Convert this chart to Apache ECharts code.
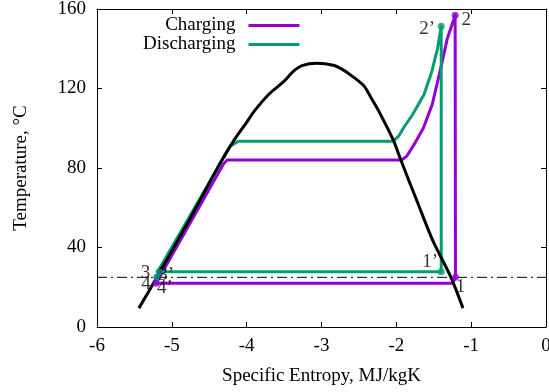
<!DOCTYPE html>
<html><head><meta charset="utf-8">
<script src="https://cdn.jsdelivr.net/npm/echarts@6/dist/echarts.min.js"></script>
<style>html,body{margin:0;padding:0;background:#fff}#c{width:549px;height:392px}</style>
</head><body><div id="c"></div>
<script>
// ---- data ----
const xTicks = [-6, -5, -4, -3, -2, -1, 0];
const yTicks = [0, 40, 80, 120, 160];
const domeS = [-5.44, -5.2, -4.75, -4.33, -4.15, -4.0, -3.89, -3.69, -3.51, -3.38, -3.26, -3.06, -2.84, -2.74, -2.64, -2.44, -2.34, -2.24, -2.04, -1.94, -1.72, -1.515, -1.27, -1.11];
const domeT = [9.5, 25, 55, 84, 95, 103, 109, 117.6, 123.3, 128.5, 131.5, 132.7, 131.7, 130, 127.6, 121.6, 115.5, 109, 94, 84, 63, 43.7, 25, 9.5];
const chargeS = [-1.21, -1.214, -1.32, -1.42, -1.52, -1.64, -1.76, -1.86, -1.93, -4.26, -4.31, -5.21, -1.25, -1.21];
const chargeT = [25, 156.8, 145, 128, 112, 100, 92, 86, 84, 84, 82, 22, 22, 25];
const dischargeS = [-1.40, -1.40, -1.45, -1.53, -1.63, -1.78, -1.89, -1.97, -2.04, -4.11, -4.22, -5.19, -1.40];
const dischargeT = [27.8, 151.3, 140, 128, 117, 107, 101, 96, 93.5, 93.5, 91, 27.8, 27.8];
const ambientS = [-6, 0];
const ambientT = [25, 25];
const chargeStateNames = ['1', '2', '3', '4'];
const chargeStateS = [-1.21, -1.214, -5.19, -5.21];
const chargeStateT = [25, 156.8, 25, 22];
const dischargeStateNames = ['1’', '2’', '3’', '4’'];
const dischargeStateS = [-1.40, -1.40, -5.17, -5.2];
const dischargeStateT = [27.8, 151.3, 27.8, 25];

// ---- styles ----
const PURPLE = '#9400D3', GREEN = '#009E73';
const FONT = 'Liberation Serif';
const chargeLabelOffsets = [[5, 10], [11, 5], [-12, -4], [-10, 1]];
const dischargeLabelOffsets = [[-11, -10], [-14, 3], [7, 3], [8, 11]];

const zip = (a, b) => a.map((v, i) => [v, b[i]]);
const states = (names, s, t, offs) => names.map((n, i) => ({
  name: n, value: [s[i], t[i]],
  label: { offset: offs[i] }
}));

const axisCommon = {
  type: 'value',
  axisLine: { show: true, onZero: false, lineStyle: { color: '#000', width: 1 } },
  axisTick: { show: true, inside: true, length: 5, lineStyle: { color: '#000' } },
  splitLine: { show: false },
};

const chart = echarts.init(document.getElementById('c'), null, { renderer: 'canvas' });
chart.setOption({
  animation: false,
  backgroundColor: '#fff',
  textStyle: { fontFamily: FONT },
  grid: { left: 97, right: 3, top: 9, bottom: 65, containLabel: false, outerBoundsMode: 'none' },
  legend: {
    data: ['Charging', 'Discharging'],
    orient: 'vertical',
    align: 'right',
    left: 138, top: 11,
    icon: 'rect', itemWidth: 51, itemHeight: 3, itemGap: 0,
    textStyle: { fontFamily: FONT, fontSize: 19, color: '#000', lineHeight: 19, padding: [0, 8, 0, 0] },
  },
  xAxis: [
    Object.assign({}, axisCommon, {
      min: xTicks[0], max: xTicks[xTicks.length - 1], interval: 1, position: 'bottom',
      axisLabel: { show: true, margin: 10, fontFamily: FONT, fontSize: 19, color: '#000' },
      name: 'Specific Entropy, MJ/kgK', nameLocation: 'middle', nameGap: 40,
      nameTextStyle: { fontFamily: FONT, fontSize: 19, color: '#000' },
    }),
    Object.assign({}, axisCommon, {
      min: xTicks[0], max: xTicks[xTicks.length - 1], interval: 1, position: 'top',
      axisLabel: { show: false },
    }),
  ],
  yAxis: [
    Object.assign({}, axisCommon, {
      min: yTicks[0], max: yTicks[yTicks.length - 1], interval: 40, position: 'left',
      axisLabel: { show: true, margin: 11, fontFamily: FONT, fontSize: 19, color: '#000' },
      name: 'Temperature, °C', nameLocation: 'middle', nameGap: 66,
      nameTextStyle: { fontFamily: FONT, fontSize: 19, color: '#000' },
    }),
    Object.assign({}, axisCommon, {
      min: yTicks[0], max: yTicks[yTicks.length - 1], interval: 40, position: 'right',
      axisLabel: { show: false },
    }),
  ],
  series: [
    {
      name: 'Charging', type: 'line', data: zip(chargeS, chargeT),
      showSymbol: false, symbol: 'none', color: PURPLE,
      lineStyle: { color: PURPLE, width: 3, join: 'round' }, z: 2,
    },
    {
      name: 'Discharging', type: 'line', data: zip(dischargeS, dischargeT),
      showSymbol: false, symbol: 'none', color: GREEN,
      lineStyle: { color: GREEN, width: 3, join: 'round' }, z: 3,
    },
    {
      name: 'dome', type: 'line', data: zip(domeS, domeT),
      showSymbol: false, symbol: 'none', smooth: 0.3,
      lineStyle: { color: '#000', width: 3 }, z: 4,
    },
    {
      name: 'ambient', type: 'line', data: zip(ambientS, ambientT),
      showSymbol: false, symbol: 'none',
      lineStyle: { color: '#000', width: 1, type: [10, 4, 2, 4] }, z: 5,
    },
    {
      name: 'chargeStates', type: 'scatter', symbol: 'circle', symbolSize: 7,
      itemStyle: { color: PURPLE }, z: 6,
      label: { show: true, position: 'inside', formatter: '{b}', fontFamily: FONT, fontSize: 19, color: '#000' },
      data: states(chargeStateNames, chargeStateS, chargeStateT, chargeLabelOffsets),
    },
    {
      name: 'dischargeStates', type: 'scatter', symbol: 'circle', symbolSize: 7,
      itemStyle: { color: GREEN }, z: 6,
      label: { show: true, position: 'inside', formatter: '{b}', fontFamily: FONT, fontSize: 19, color: '#000' },
      data: states(dischargeStateNames, dischargeStateS, dischargeStateT, dischargeLabelOffsets),
    },
  ],
});
</script>
</body></html>
